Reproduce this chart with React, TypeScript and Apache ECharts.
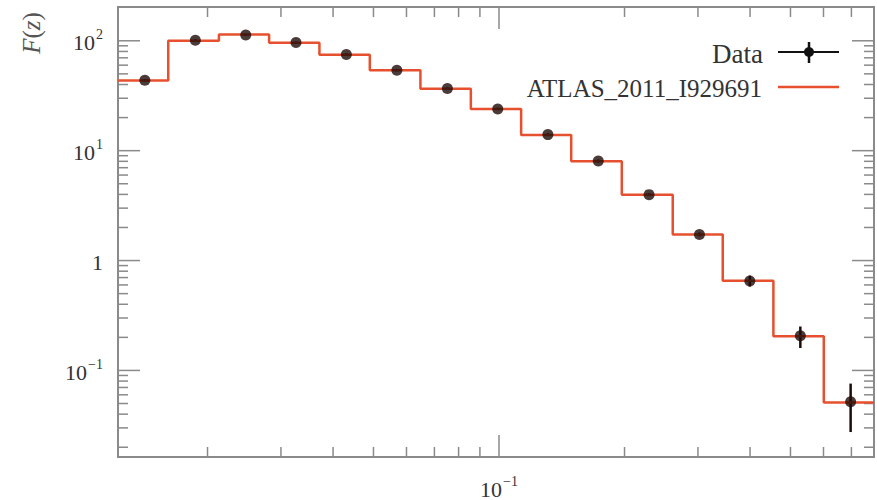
import React, { useEffect, useRef } from "react";
import * as echarts from "echarts";

// Bin edges in z
const binEdges = [0.0122, 0.0161, 0.0213, 0.0281, 0.0371, 0.049, 0.0648, 0.0856, 0.113, 0.149, 0.197, 0.261, 0.344, 0.455, 0.601, 0.793];
// Data points F(z)
const dataValues = [43.7, 101, 113, 96.5, 75, 54, 36.8, 24.0, 14.0, 8.05, 3.98, 1.73, 0.65, 0.207, 0.052];
const dataErrLow = [42.6, 98.8, 110.5, 94.3, 73.2, 52.8, 35.9, 23.4, 13.6, 7.8, 3.86, 1.66, 0.58, 0.16, 0.0275];
const dataErrHigh = [44.8, 103.2, 115.5, 98.7, 76.8, 55.2, 37.7, 24.6, 14.4, 8.3, 4.1, 1.8, 0.73, 0.251, 0.0759];
// MC histogram (ATLAS_2011_I929691)
const mcValues = [43.5, 100, 114, 96, 74.5, 53.8, 36.6, 23.9, 13.9, 8.0, 3.97, 1.73, 0.655, 0.205, 0.051];

const yMin = 0.0163;
const yMax = 203;

const xMajorTicks = [0.1];
const xMinorTicks = [0.02, 0.03, 0.04, 0.05, 0.06, 0.07, 0.08, 0.09, 0.2, 0.3, 0.4, 0.5, 0.6, 0.7];
const yMajorTicks = [0.1, 1, 10, 100];
const yMinorTicks = [
  0.02, 0.03, 0.04, 0.05, 0.06, 0.07, 0.08, 0.09,
  0.2, 0.3, 0.4, 0.5, 0.6, 0.7, 0.8, 0.9,
  2, 3, 4, 5, 6, 7, 8, 9,
  20, 30, 40, 50, 60, 70, 80, 90,
];

const legendLabels = ["Data", "ATLAS_2011_I929691"];

const FONT = "Liberation Serif";
const AXIS_GRAY = "#8a8a8a";
const TEXT = "#333333";
const RED = "#e6502f";
const DOT = "#1e0b07";

function powLabel(v: number): string {
  const l = Math.log10(v);
  const r = Math.round(l);
  if (Math.abs(l - r) > 1e-6) return "";
  if (r === 0) return "{b|1}";
  const exp = r < 0 ? "\u2212" + Math.abs(r) : String(r);
  return "{b|10}{s|" + exp + "}";
}

const labelRich = {
  b: { fontSize: 22, fontFamily: FONT, color: TEXT, lineHeight: 26, verticalAlign: "bottom" },
  s: { fontSize: 14, fontFamily: FONT, color: TEXT, lineHeight: 14, verticalAlign: "top", padding: [0, 0, 0, 1] },
};

export default function App() {
  const ref = useRef<HTMLDivElement>(null);

  useEffect(() => {
    document.body.style.margin = "0";
    if (!ref.current) return;
    const chart = echarts.init(ref.current, undefined, { renderer: "svg" });

    const stepData: number[][] = [];
    mcValues.forEach((v, i) => {
      stepData.push([binEdges[i], v]);
      stepData.push([binEdges[i + 1], v]);
    });
    const mids = dataValues.map((_, i) => (binEdges[i] + binEdges[i + 1]) / 2);
    const pointData = dataValues.map((v, i) => [mids[i], v]);
    const errData = dataValues.map((_, i) => [mids[i], dataErrLow[i], dataErrHigh[i]]);

    const xTickData = [
      ...xMajorTicks.map((v) => [v, 1, 22]),
      ...xMinorTicks.map((v) => [v, 1, 10]),
    ];
    const yTickData = [
      ...yMajorTicks.map((v) => [0.1, v, 22]),
      ...yMinorTicks.map((v) => [0.1, v, 10]),
    ];

    const tickStyle = { stroke: AXIS_GRAY, lineWidth: 1.5 };

    chart.setOption({
      animation: false,
      grid: {
        left: 118,
        right: 1,
        top: 7,
        bottom: 38,
        show: true,
        borderColor: AXIS_GRAY,
        borderWidth: 2,
        backgroundColor: "transparent",
      },
      xAxis: {
        type: "log",
        logBase: 10,
        min: binEdges[0],
        max: binEdges[binEdges.length - 1],
        axisLine: { show: false },
        axisTick: { show: false },
        splitLine: { show: false },
        axisLabel: {
          formatter: powLabel,
          margin: 17,
          rich: labelRich,
          showMinLabel: true,
          showMaxLabel: true,
        },
      },
      yAxis: {
        type: "log",
        logBase: 10,
        min: yMin,
        max: yMax,
        axisLine: { show: false },
        axisTick: { show: false },
        splitLine: { show: false },
        axisLabel: {
          formatter: powLabel,
          margin: 15,
          rich: labelRich,
        },
      },
      series: [
        {
          type: "custom",
          name: "xticks",
          data: xTickData,
          encode: { x: 0, y: 1 },
          silent: true,
          z: 1,
          renderItem: (params: any, api: any) => {
            const cs = params.coordSys;
            const x = api.coord([api.value(0), api.value(1)])[0];
            const len = api.value(2);
            const b = cs.y + cs.height;
            return {
              type: "group",
              children: [
                { type: "line", shape: { x1: x, y1: b, x2: x, y2: b - len }, style: tickStyle },
                { type: "line", shape: { x1: x, y1: cs.y, x2: x, y2: cs.y + len }, style: tickStyle },
              ],
            };
          },
        },
        {
          type: "custom",
          name: "yticks",
          data: yTickData,
          encode: { x: 0, y: 1 },
          silent: true,
          z: 1,
          renderItem: (params: any, api: any) => {
            const cs = params.coordSys;
            const y = api.coord([api.value(0), api.value(1)])[1];
            const len = api.value(2);
            const r = cs.x + cs.width;
            return {
              type: "group",
              children: [
                { type: "line", shape: { x1: cs.x, y1: y, x2: cs.x + len, y2: y }, style: tickStyle },
                { type: "line", shape: { x1: r, y1: y, x2: r - len, y2: y }, style: tickStyle },
              ],
            };
          },
        },
        {
          type: "custom",
          name: "errors",
          data: errData,
          encode: { x: 0, y: [1, 2] },
          silent: true,
          z: 2,
          renderItem: (params: any, api: any) => {
            const lo = api.coord([api.value(0), api.value(1)]);
            const hi = api.coord([api.value(0), api.value(2)]);
            return {
              type: "line",
              shape: { x1: lo[0], y1: lo[1], x2: hi[0], y2: hi[1] },
              style: { stroke: DOT, lineWidth: 2.5 },
            };
          },
        },
        {
          type: "line",
          name: legendLabels[1],
          data: stepData,
          showSymbol: false,
          symbol: "none",
          lineStyle: { color: RED, width: 2.5 },
          z: 3,
          silent: true,
        },
        {
          type: "scatter",
          name: legendLabels[0],
          data: pointData,
          symbol: "circle",
          symbolSize: 11,
          itemStyle: { color: DOT },
          z: 4,
          silent: true,
        },
      ],
      graphic: [
        {
          type: "text",
          x: 31,
          y: 33,
          rotation: Math.PI / 2,
          style: {
            text: "{i|F}{n|(}{i|z}{n|)}",
            align: "center",
            verticalAlign: "middle",
            rich: {
              i: { fontSize: 25, fontStyle: "italic", fontFamily: FONT, fill: "#555" },
              n: { fontSize: 25, fontFamily: FONT, fill: "#555" },
            },
          },
        },
        {
          type: "text",
          x: 763,
          y: 54,
          style: {
            text: legendLabels[0],
            align: "right",
            verticalAlign: "middle",
            fontSize: 27,
            fontFamily: FONT,
            fill: TEXT,
          },
        },
        {
          type: "text",
          x: 762,
          y: 88,
          style: {
            text: legendLabels[1],
            align: "right",
            verticalAlign: "middle",
            fontSize: 25,
            fontFamily: FONT,
            fill: TEXT,
          },
        },
        { type: "line", shape: { x1: 778, y1: 52, x2: 839, y2: 52 }, style: { stroke: "#111", lineWidth: 2 } },
        { type: "line", shape: { x1: 809, y1: 42, x2: 809, y2: 63 }, style: { stroke: "#111", lineWidth: 2.5 } },
        { type: "circle", shape: { cx: 809, cy: 52, r: 5 }, style: { fill: "#111" } },
        { type: "line", shape: { x1: 778, y1: 87, x2: 839, y2: 87 }, style: { stroke: RED, lineWidth: 2.5 } },
      ],
    });

    return () => chart.dispose();
  }, []);

  return <div ref={ref} style={{ width: 877, height: 500 }} />;
}
